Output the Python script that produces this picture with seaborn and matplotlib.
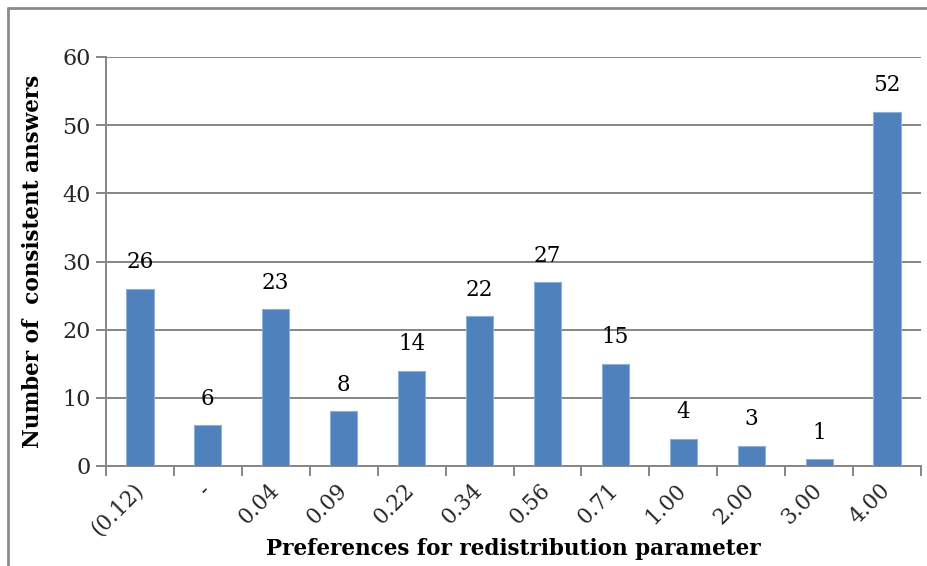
import matplotlib
matplotlib.use("Agg")
import matplotlib.pyplot as plt
import seaborn as sns
import pandas as pd
import numpy as np
from matplotlib.lines import Line2D

categories = ["(0.12)", "-", "0.04", "0.09", "0.22", "0.34", "0.56", "0.71",
              "1.00", "2.00", "3.00", "4.00"]
answers = [26, 6, 23, 8, 14, 22, 27, 15, 4, 3, 1, 52]

df = pd.DataFrame({"param": categories, "count": answers})

sns.set_theme(style="white")
plt.rcParams["font.family"] = ["DejaVu Serif"]

W, H = 928, 566
fig = plt.figure(figsize=(W / 100, H / 100), dpi=100)
ax = fig.add_axes([106 / W, 1 - 466 / H, (921 - 106) / W, (466 - 57) / H])

bar_color = "#4F81BD"
grid_color = "#868686"
fs = 15.5

sns.barplot(data=df, x="param", y="count", order=categories, color=bar_color,
            width=0.4, saturation=1, edgecolor="#8EAFD8", linewidth=0.8,
            ax=ax, zorder=3)

ax.set_ylim(0, 60)
ax.set_xlim(-0.5, len(categories) - 0.5)
ax.set_yticks(np.arange(0, 61, 10))
ax.yaxis.grid(True, color=grid_color, linewidth=1.4, zorder=0)
ax.xaxis.grid(False)
ax.set_axisbelow(True)

for side in ("top", "right"):
    ax.spines[side].set_visible(False)
for side in ("left", "bottom"):
    ax.spines[side].set_color(grid_color)
    ax.spines[side].set_linewidth(1.4)

# tick marks sit between categories, labels sit under the bars
ax.set_xticks(np.arange(len(categories)))
ax.set_xticklabels(categories, rotation=45, ha="right", va="center",
                   rotation_mode="anchor", fontsize=fs)
ax.set_xticks(np.arange(-0.5, len(categories)), minor=True)
ax.tick_params(axis="x", which="major", length=0, pad=15)
ax.tick_params(axis="x", which="minor", length=7, width=1.4, color=grid_color,
               direction="out", bottom=True)
ax.tick_params(axis="y", length=7, width=1.4, color=grid_color, direction="out",
               left=True, labelsize=fs + 0.5, pad=4)

for i, v in enumerate(answers):
    ax.annotate(str(v), (i, v), xytext=(0, 11), textcoords="offset points",
                ha="center", va="bottom", fontsize=fs, color="black")

ax.set_xlabel("Preferences for redistribution parameter", fontsize=fs,
              fontweight="bold", color="black", va="center")
ax.set_ylabel("Number of  consistent answers", fontsize=fs,
              fontweight="bold", color="black", va="center")
ax.xaxis.set_label_coords(0.5, (466 - 549) / (466 - 57), transform=ax.transAxes)
ax.yaxis.set_label_coords((33 - 106) / (921 - 106), 0.5, transform=ax.transAxes)

# chart frame (top and left edges)
fig.add_artist(Line2D([8 / W, 1.01], [1 - 8 / H, 1 - 8 / H], color="#8C8C8C",
                      linewidth=2, transform=fig.transFigure))
fig.add_artist(Line2D([8 / W, 8 / W], [-0.01, 1 - 8 / H], color="#8C8C8C",
                      linewidth=2, transform=fig.transFigure))

fig.savefig("out.png", dpi=100)
